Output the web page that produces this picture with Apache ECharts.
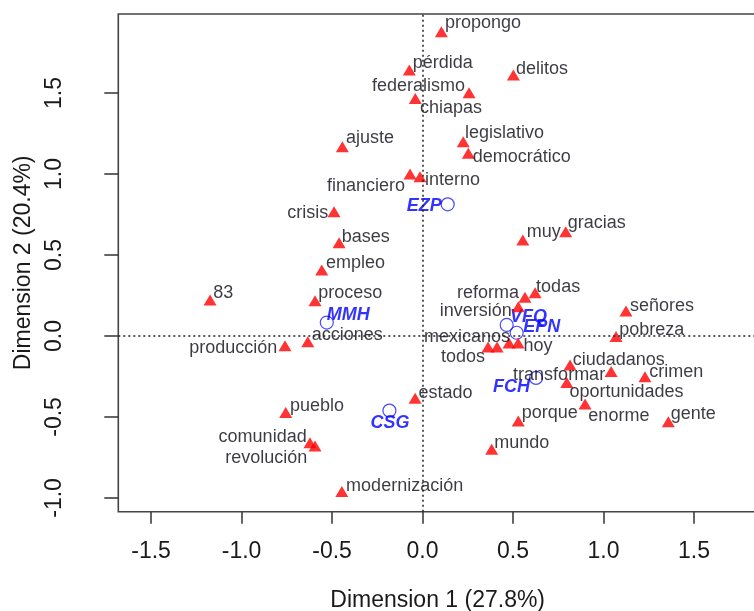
<!DOCTYPE html>
<html><head><meta charset="utf-8">
<script src="https://cdn.jsdelivr.net/npm/echarts@6/dist/echarts.min.js"></script>
<style>html,body{margin:0;padding:0;background:#fff}#c{width:754px;height:611px}</style>
</head><body><div id="c"></div>
<script>
// ---- data ----
const words = ['propongo','pérdida','delitos','federalismo','chiapas','ajuste','legislativo','democrático',
  'financiero','interno','crisis','muy','gracias','bases','empleo','83','proceso','todas','reforma','inversión',
  'señores','acciones','producción','pobreza','todos','','mexicanos','hoy','ciudadanos','transformar','crimen',
  'oportunidades','enorme','gente','estado','porque','pueblo','comunidad','revolución','mundo','modernización'];
const wordX = [0.104,-0.073,0.502,0.257,-0.040,-0.443,0.225,0.253,
  -0.069,-0.014,-0.489,0.554,0.791,-0.461,-0.557,-1.174,-0.594,0.622,0.566,0.529,
  1.124,-0.634,-0.760,1.069,0.362,0.412,0.478,0.528,0.815,1.042,1.229,
  0.797,0.898,1.358,-0.041,0.529,-0.756,-0.622,-0.594,0.382,-0.446];
const wordY = [1.878,1.642,1.611,1.502,1.467,1.169,1.199,1.128,
  1.000,0.983,0.767,0.593,0.644,0.576,0.407,0.222,0.218,0.267,0.239,0.181,
  0.154,-0.035,-0.060,-0.004,-0.068,-0.068,-0.043,-0.043,-0.179,-0.220,-0.251,
  -0.288,-0.420,-0.529,-0.385,-0.525,-0.473,-0.659,-0.679,-0.699,-0.961];
const presidents = ['EZP','MMH','VFQ','EPN','FCH','CSG'];
const presX = [0.139,-0.529,0.465,0.520,0.627,-0.183];
const presY = [0.813,0.083,0.068,0.020,-0.259,-0.461];
const xTicks = [-1.5,-1.0,-0.5,0.0,0.5,1.0,1.5];
const yTicks = [-1.0,-0.5,0.0,0.5,1.0,1.5];
const xTitle = 'Dimension 1 (27.8%)';
const yTitle = 'Dimension 2 (20.4%)';

// ---- label placement (style only: align, dx, dy in px) ----
const place = {
  'propongo':['left',3.7,-9],'pérdida':['left',3.4,-6.7],'delitos':['left',2.7,-6],
  'federalismo':['right',-4,-6.7],'chiapas':['left',4.7,10],'ajuste':['left',3.7,-8.4],
  'legislativo':['left',1.7,-8.4],'democrático':['left',4.4,3.4],'financiero':['right',-5,12],
  'interno':['left',5,3.3],'crisis':['right',-5.7,1.6],'muy':['left',4,-8.3],'gracias':['left',2,-8.4],
  'bases':['left',2.7,-6],'empleo':['left',4.3,-6.7],'83':['left',3.3,-6.7],'proceso':['left',3.3,-8],
  'todas':['left',1,-6],'reforma':['right',-6,-4.6],'inversión':['right',-6.6,4],'señores':['left',4,-5],
  'acciones':['left',4,-6.7],'producción':['right',-7.7,2.6],'pobreza':['left',3.3,-6.7],
  'todos':['right',-3,9.7],'mexicanos':['right',1,-6.3],'hoy':['left',5.3,2.7],
  'ciudadanos':['left',2.7,-5],'transformar':['right',-6,3.3],'crimen':['left',4.3,-4.3],
  'oportunidades':['left',2.6,9],'enorme':['left',3.3,12],'gente':['left',2.4,-7.7],
  'estado':['left',3.3,-5],'porque':['left',3.4,-7.7],'pueblo':['left',4.3,-6.7],
  'comunidad':['right',-3.3,-5.4],'revolución':['right',-7.7,11.7],'mundo':['left',2.6,-6],
  'modernización':['left',4.3,-5.7],
  'EZP':['right',-6,1.7],'MMH':['left',0,-7.7],'VFQ':['left',3.3,-8.3],'EPN':['left',6.6,-6],
  'FCH':['right',-6,9.3],'CSG':['center',0.7,12.6]
};

const FONT = '"Liberation Sans", Arial, sans-serif';
function mkLabel(name, extra) {
  const p = place[name] || ['left', 4, -6];
  return Object.assign({
    show: name !== '', formatter: name, position: 'inside',
    align: p[0], verticalAlign: 'middle', offset: [p[1], p[2]],
    fontFamily: FONT, fontSize: 18, color: '#0a0a14'
  }, extra || {});
}

const wordData = words.map((w, i) => ({ name: w, value: [wordX[i], wordY[i]], label: mkLabel(w) }));
const presData = presidents.map((p, i) => ({ name: p, value: [presX[i], presY[i]],
  label: mkLabel(p, { color: '#0000ff', fontWeight: 'bold', fontStyle: 'italic' }) }));

const chart = echarts.init(document.getElementById('c'), null, { renderer: 'canvas' });
const axisTextStyle = { fontFamily: FONT, fontSize: 23, color: '#1a1a1a' };
chart.setOption({
  animation: false,
  backgroundColor: '#fff',
  grid: { left: 118.3, top: 14, right: -3, bottom: 99.3, show: true, borderColor: '#444', borderWidth: 1.6,
          containLabel: false, outerBoundsMode: 'none' },
  xAxis: {
    type: 'value', min: -1.681, max: 1.848,
    splitLine: { show: false }, axisLine: { show: false, onZero: false },
    axisTick: { show: true, length: 12, lineStyle: { color: '#333', width: 1.5 }, customValues: xTicks },
    axisLabel: Object.assign({ margin: 28, customValues: xTicks, formatter: v => v.toFixed(1) }, axisTextStyle),
    name: xTitle, nameLocation: 'middle', nameGap: 77, nameTextStyle: axisTextStyle
  },
  yAxis: {
    type: 'value', min: -1.085, max: 1.988,
    splitLine: { show: false }, axisLine: { show: false, onZero: false },
    axisTick: { show: true, length: 14, lineStyle: { color: '#333', width: 1.5 }, customValues: yTicks },
    axisLabel: Object.assign({ margin: 52, rotate: 90, customValues: yTicks, formatter: v => v.toFixed(1) }, axisTextStyle),
    name: yTitle, nameLocation: 'middle', nameRotate: 90, nameGap: 70, nameTextStyle: axisTextStyle
  },
  series: [
    {
      type: 'scatter', name: 'presidentes', data: presData, z: 2,
      symbol: 'circle', symbolSize: 13,
      itemStyle: { color: 'rgba(0,0,0,0)', borderColor: '#1a1aff', borderWidth: 1.2 },
      markLine: {
        silent: true, symbol: 'none', animation: false,
        label: { show: false },
        lineStyle: { color: '#222', width: 1.5, type: [2, 3] },
        data: [{ xAxis: 0 }, { yAxis: 0 }]
      }
    },
    {
      type: 'scatter', name: 'palabras', data: wordData, z: 3,
      symbol: 'triangle', symbolSize: [13, 11],
      itemStyle: { color: '#ff0000' }
    }
  ]
});
</script></body></html>
